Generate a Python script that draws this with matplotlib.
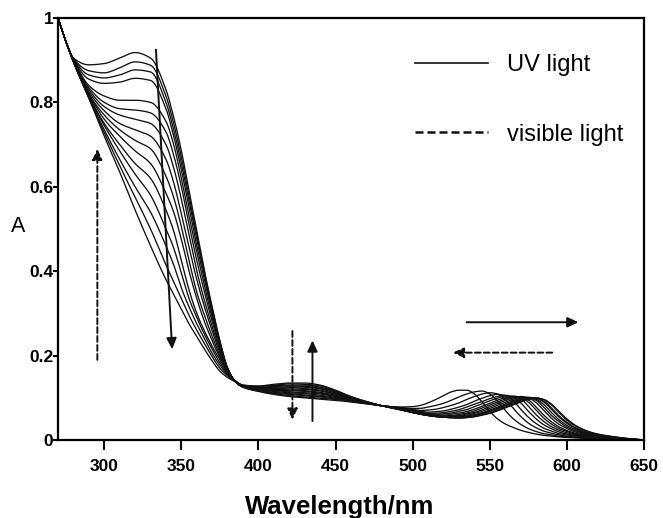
import numpy as np
import matplotlib
matplotlib.use("Agg")
import matplotlib.pyplot as plt
from matplotlib.lines import Line2D

plt.rcParams['font.family'] = ['Liberation Sans', 'DejaVu Sans']

# ---------------- data ----------------
wl_uv = [270, 275, 280, 290, 300, 310, 320, 330, 340, 345, 350, 355, 360, 365, 370, 375, 380, 385, 390]
wl_vis = [400, 410, 420, 430, 440, 450, 460, 470, 480, 490,
          500, 505, 510, 515, 520, 525, 530, 535, 540, 545, 550, 555, 560, 565, 570,
          575, 580, 585, 590, 595, 600, 605, 610, 615, 620, 630, 640, 650]

uv_spectra = [
    [1.0, .945, .905, .889, .892, .905, .918, .905, .83, .765, .685, .59, .495, .40, .315, .235, .17, .138, .125],
    [1.0, .945, .904, .875, .870, .882, .896, .888, .815, .75, .67, .578, .485, .395, .31, .232, .17, .138, .125],
    [1.0, .945, .903, .865, .858, .865, .877, .872, .80, .735, .655, .565, .475, .39, .305, .23, .17, .138, .126],
    [1.0, .945, .902, .855, .845, .848, .857, .852, .785, .72, .64, .55, .46, .38, .298, .226, .168, .138, .126],
    [1.0, .945, .901, .84, .815, .805, .805, .80, .755, .70, .62, .53, .445, .365, .29, .222, .167, .138, .126],
    [1.0, .945, .900, .835, .80, .785, .782, .775, .73, .675, .60, .51, .425, .35, .28, .218, .166, .138, .127],
    [1.0, .945, .900, .83, .79, .77, .76, .75, .70, .645, .57, .485, .40, .33, .268, .212, .165, .139, .127],
    [1.0, .945, .899, .825, .78, .75, .735, .72, .665, .61, .535, .455, .38, .315, .258, .206, .164, .139, .127],
    [1.0, .945, .899, .82, .77, .735, .71, .69, .625, .575, .505, .425, .35, .295, .245, .20, .163, .139, .128],
    [1.0, .945, .898, .82, .76, .72, .685, .655, .585, .54, .475, .40, .335, .28, .235, .195, .162, .14, .128],
    [1.0, .945, .897, .815, .75, .70, .655, .62, .545, .495, .425, .355, .30, .258, .222, .19, .16, .14, .128],
    [1.0, .945, .897, .815, .745, .685, .63, .58, .50, .455, .395, .335, .29, .25, .215, .183, .158, .14, .129],
    [1.0, .945, .896, .812, .735, .665, .60, .54, .46, .415, .36, .315, .275, .24, .205, .177, .155, .14, .129],
    [1.0, .945, .896, .81, .728, .65, .575, .50, .415, .375, .335, .295, .26, .228, .197, .17, .152, .139, .13],
    [1.0, .945, .895, .81, .72, .635, .545, .46, .38, .345, .31, .275, .245, .215, .187, .163, .148, .138, .13],
]

vis_spectra = [
    [.115, .108, .103, .100, .097, .094, .090, .086, .081, .078,
     .079, .082, .088, .096, .105, .114, .118, .118, .109, .090, .068, .050, .038, .030, .023,
     .018, .014, .011, .009, .007, .006, .005, .004, .0035, .003, .002, .001, 0.0],
    [.116, .110, .105, .102, .099, .096, .091, .086, .081, .078,
     .0745, .075, .078, .082, .087, .094, .102, .109, .114, .116, .109, .092, .070, .051, .037,
     .027, .020, .015, .012, .009, .008, .006, .005, .004, .004, .002, .001, 0.0],
    [.117, .111, .108, .105, .102, .097, .092, .087, .081, .077,
     .072, .070, .071, .073, .077, .082, .088, .096, .103, .109, .112, .109, .096, .076, .056,
     .040, .029, .021, .016, .012, .009, .007, .005, .004, .004, .002, .001, 0.0],
    [.118, .113, .110, .107, .104, .099, .093, .087, .081, .077,
     .070, .068, .066, .067, .069, .073, .078, .084, .092, .099, .105, .108, .105, .093, .073,
     .054, .039, .028, .021, .015, .012, .009, .0065, .005, .004, .002, .001, 0.0],
    [.119, .115, .112, .110, .106, .101, .094, .087, .081, .077,
     .069, .066, .0635, .0635, .065, .068, .072, .078, .085, .091, .098, .103, .106, .101, .088,
     .068, .050, .036, .0265, .019, .014, .011, .008, .006, .005, .0025, .001, 0.0],
    [.120, .117, .114, .112, .109, .103, .095, .088, .081, .076,
     .068, .065, .062, .061, .062, .064, .068, .072, .079, .086, .093, .099, .104, .103, .097,
     .080, .060, .044, .0315, .023, .017, .0125, .0095, .007, .0055, .003, .0012, 0.0],
    [.121, .118, .117, .115, .111, .104, .096, .088, .081, .076,
     .067, .064, .061, .0595, .059, .061, .0635, .0675, .073, .080, .087, .0945, .1005, .104, .101,
     .0895, .071, .052, .0375, .027, .020, .0145, .0115, .0083, .0062, .0035, .0015, 0.0],
    [.122, .120, .119, .117, .113, .106, .097, .089, .081, .076,
     .066, .063, .060, .058, .057, .058, .0605, .064, .069, .076, .083, .0905, .097, .102, .1015,
     .095, .078, .059, .043, .031, .0225, .0165, .0125, .0095, .007, .004, .0017, 0.0],
    [.122, .122, .121, .120, .116, .108, .097, .089, .081, .075,
     .0655, .062, .059, .057, .056, .0565, .058, .0615, .0655, .0715, .079, .086, .0935, .0995, .103,
     .100, .0885, .070, .0515, .037, .027, .0195, .0145, .011, .008, .0045, .002, 0.0],
    [.123, .123, .124, .122, .118, .109, .098, .089, .081, .075,
     .065, .062, .059, .0565, .0555, .055, .0565, .059, .063, .068, .0747, .082, .0895, .096, .101,
     .1005, .094, .0775, .058, .043, .0305, .0225, .0165, .0125, .0092, .005, .0022, 0.0],
    [.124, .125, .126, .125, .121, .111, .099, .090, .081, .074,
     .0655, .0615, .0585, .056, .0548, .054, .0547, .0567, .060, .0646, .071, .078, .0855, .0928, .0984,
     .101, .0965, .084, .065, .0475, .0345, .025, .018, .0136, .010, .0055, .0024, 0.0],
    [.125, .127, .128, .127, .123, .113, .100, .090, .081, .074,
     .0655, .061, .058, .0555, .054, .0533, .0535, .0553, .0585, .0626, .0684, .0753, .0828, .0902, .0964,
     .1008, .099, .090, .0727, .054, .0394, .0283, .0202, .015, .0116, .006, .0026, 0.0],
    [.126, .129, .130, .130, .125, .115, .101, .090, .081, .074,
     .065, .0615, .058, .0555, .054, .0533, .0532, .0546, .0577, .0615, .0669, .0734, .0807, .0878, .0941,
     .0991, .0985, .092, .076, .057, .042, .030, .022, .016, .012, .0065, .0028, 0.0],
    [.127, .130, .133, .132, .128, .116, .102, .091, .081, .073,
     .065, .0612, .058, .0555, .0538, .0527, .052, .0533, .0556, .0594, .0642, .0707, .0779, .0851, .0921,
     .0974, .100, .0955, .083, .0645, .047, .034, .025, .018, .0135, .0075, .003, 0.0],
    [.128, .132, .135, .135, .130, .118, .103, .091, .081, .073,
     .065, .061, .058, .056, .054, .053, .052, .053, .055, .059, .063, .069, .076, .083, .090,
     .096, .099, .096, .085, .067, .050, .036, .026, .019, .014, .008, .0035, 0.0],
]

x_ticks = [300, 350, 400, 450, 500, 550, 600, 650]
y_ticks = [0, 0.2, 0.4, 0.6, 0.8, 1.0]
y_ticklabels = ['0', '0.2', '0.4', '0.6', '0.8', '1']
legend_labels = ['UV light', 'visible light']

# annotation arrows: (tail, head, dashed)
arrows = [
    ((333.5, 0.925), (344.0, 0.215), False),
    ((295.5, 0.19), (295.5, 0.69), True),
    ((422.0, 0.258), (422.0, 0.048), True),
    ((435.0, 0.045), (435.0, 0.236), False),
    ((535.0, 0.279), (607.5, 0.279), False),
    ((590.5, 0.207), (526.0, 0.207), True),
]


def pchip(x, y, xn):
    x = np.asarray(x, float)
    y = np.asarray(y, float)
    h = np.diff(x)
    d = np.diff(y) / h
    m = np.zeros_like(y)
    m[0] = d[0]
    m[-1] = d[-1]
    for i in range(1, len(x) - 1):
        if d[i - 1] * d[i] <= 0:
            m[i] = 0.0
        else:
            w1 = 2 * h[i] + h[i - 1]
            w2 = h[i] + 2 * h[i - 1]
            m[i] = (w1 + w2) / (w1 / d[i - 1] + w2 / d[i])
    idx = np.clip(np.searchsorted(x, xn) - 1, 0, len(x) - 2)
    t = (xn - x[idx]) / h[idx]
    h00 = 2 * t**3 - 3 * t**2 + 1
    h10 = t**3 - 2 * t**2 + t
    h01 = -2 * t**3 + 3 * t**2
    h11 = t**3 - t**2
    return h00 * y[idx] + h10 * h[idx] * m[idx] + h01 * y[idx + 1] + h11 * h[idx] * m[idx + 1]


fig = plt.figure(figsize=(6.63, 5.18), dpi=100)
ax = fig.add_axes([0.0875, 0.1506, 0.8839, 0.8147])

wl_all = np.array(wl_uv + wl_vis, float)
xs = np.linspace(270, 650, 1500)
for uv, vis in zip(uv_spectra, vis_spectra):
    assert len(uv) == len(wl_uv) and len(vis) == len(wl_vis)
    ys = pchip(wl_all, np.array(uv + vis, float), xs)
    ax.plot(xs, ys, color='#111111', lw=0.95, solid_joinstyle='round')

for (tail, head, dashed) in arrows:
    ax.annotate('', xy=head, xytext=tail,
                arrowprops=dict(arrowstyle='-|>,head_length=0.65,head_width=0.3',
                                lw=1.4, color='#111111', shrinkA=0, shrinkB=0,
                                linestyle=(0, (3.0, 1.6)) if dashed else '-'))

ax.set_xlim(270, 650)
ax.set_ylim(0, 1.0)
ax.set_xticks(x_ticks)
ax.set_yticks(y_ticks)
ax.set_yticklabels(y_ticklabels)
for lab in ax.get_xticklabels() + ax.get_yticklabels():
    lab.set_fontweight('bold')
    lab.set_fontsize(12.5)
ax.tick_params(axis='x', direction='out', length=7, width=1.5, pad=6.5)
ax.tick_params(axis='y', direction='out', length=3.5, width=1.5, pad=0)
for sp in ax.spines.values():
    sp.set_linewidth(1.6)

ax.set_xlabel('Wavelength/nm', fontsize=18.5, fontweight='bold')
ax.xaxis.set_label_coords(0.481, -0.13)
ax.set_ylabel('A', fontsize=15.5, rotation=0, ha='center', va='center')
ax.yaxis.set_label_coords(-0.068, 0.507)

handles = [Line2D([], [], color='#111111', lw=1.2),
           Line2D([], [], color='#111111', lw=1.8, linestyle=(0, (3.2, 1.6)))]
ax.legend(handles, legend_labels, loc='upper left', bbox_to_anchor=(0.609, 0.9135),
          frameon=False, fontsize=17, handlelength=3.1, handletextpad=0.8,
          labelspacing=2.0, borderaxespad=0, borderpad=0)

fig.savefig('out.png', dpi=100)
